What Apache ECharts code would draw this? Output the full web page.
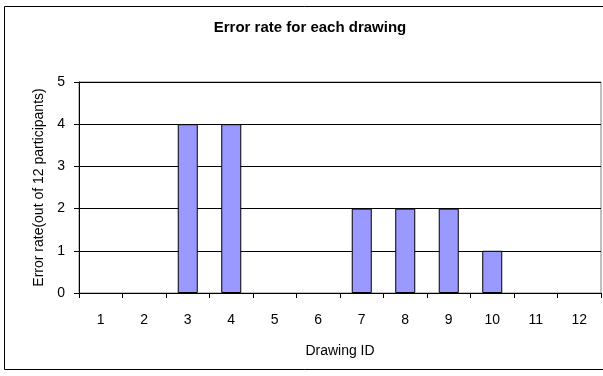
<!DOCTYPE html>
<html>
<head>
<meta charset="utf-8">
<script src="https://cdn.jsdelivr.net/npm/echarts@6/dist/echarts.min.js"></script>
<style>
  html, body { margin: 0; padding: 0; background: #fff; }
  #chart { width: 603px; height: 376px; }
</style>
</head>
<body>
<div id="chart"></div>
<script>
// Drawing IDs and the number of errors recorded for each one
const drawingIds = ['1', '2', '3', '4', '5', '6', '7', '8', '9', '10', '11', '12'];
const errorCounts = [0, 0, 4, 4, 0, 0, 2, 2, 2, 1, 0, 0];
const yTicks = [0, 1, 2, 3, 4, 5];

const chart = echarts.init(document.getElementById('chart'), null, { renderer: 'canvas' });
const FONT = 'Liberation Sans, Arial, sans-serif';

// Zero-valued bars get no outline so they leave no mark on the baseline
const barData = errorCounts.map(v => ({
  value: v,
  itemStyle: v === 0 ? { borderWidth: 0 } : {}
}));

chart.setOption({
  animation: false,
  backgroundColor: '#fff',
  graphic: [
    {
      type: 'rect',
      shape: { x: 4.5, y: 6.5, width: 620, height: 363 },
      style: { fill: 'none', stroke: '#000', lineWidth: 1 },
      silent: true,
      z: -10
    },
    {
      type: 'text',
      x: 310,
      y: 28,
      style: {
        text: 'Error rate for each drawing',
        font: 'bold 15px ' + FONT,
        fill: '#000',
        align: 'center',
        verticalAlign: 'middle'
      }
    }
  ],
  grid: {
    left: 79, right: 2, top: 82, bottom: 83,
    show: true, borderColor: '#808080', borderWidth: 1, backgroundColor: '#fff'
  },
  xAxis: {
    type: 'category',
    data: drawingIds,
    boundaryGap: true,
    name: 'Drawing ID',
    nameLocation: 'middle',
    nameGap: 51,
    nameTextStyle: { fontFamily: FONT, fontSize: 14, color: '#000' },
    axisLine: { show: true, lineStyle: { color: '#000', width: 1 } },
    axisTick: { show: true, length: 5, inside: false, lineStyle: { color: '#000' } },
    axisLabel: { fontFamily: FONT, fontSize: 14, color: '#000', margin: 20 },
    splitLine: { show: false }
  },
  yAxis: {
    type: 'value',
    min: yTicks[0],
    max: yTicks[yTicks.length - 1],
    interval: 1,
    name: 'Error rate(out of 12 participants)',
    nameLocation: 'middle',
    nameGap: 33,
    nameTextStyle: { fontFamily: FONT, fontSize: 14, color: '#000' },
    axisLine: { show: true, lineStyle: { color: '#000', width: 1 } },
    axisTick: { show: true, length: 5, inside: false, lineStyle: { color: '#000' } },
    axisLabel: { fontFamily: FONT, fontSize: 14, color: '#000', margin: 14 },
    splitLine: { show: true, lineStyle: { color: '#000', width: 1 } }
  },
  series: [
    {
      type: 'bar',
      data: barData,
      barWidth: '46%',
      itemStyle: { color: '#9999FF', borderColor: '#000', borderWidth: 1 }
    }
  ]
});
</script>
</body>
</html>
